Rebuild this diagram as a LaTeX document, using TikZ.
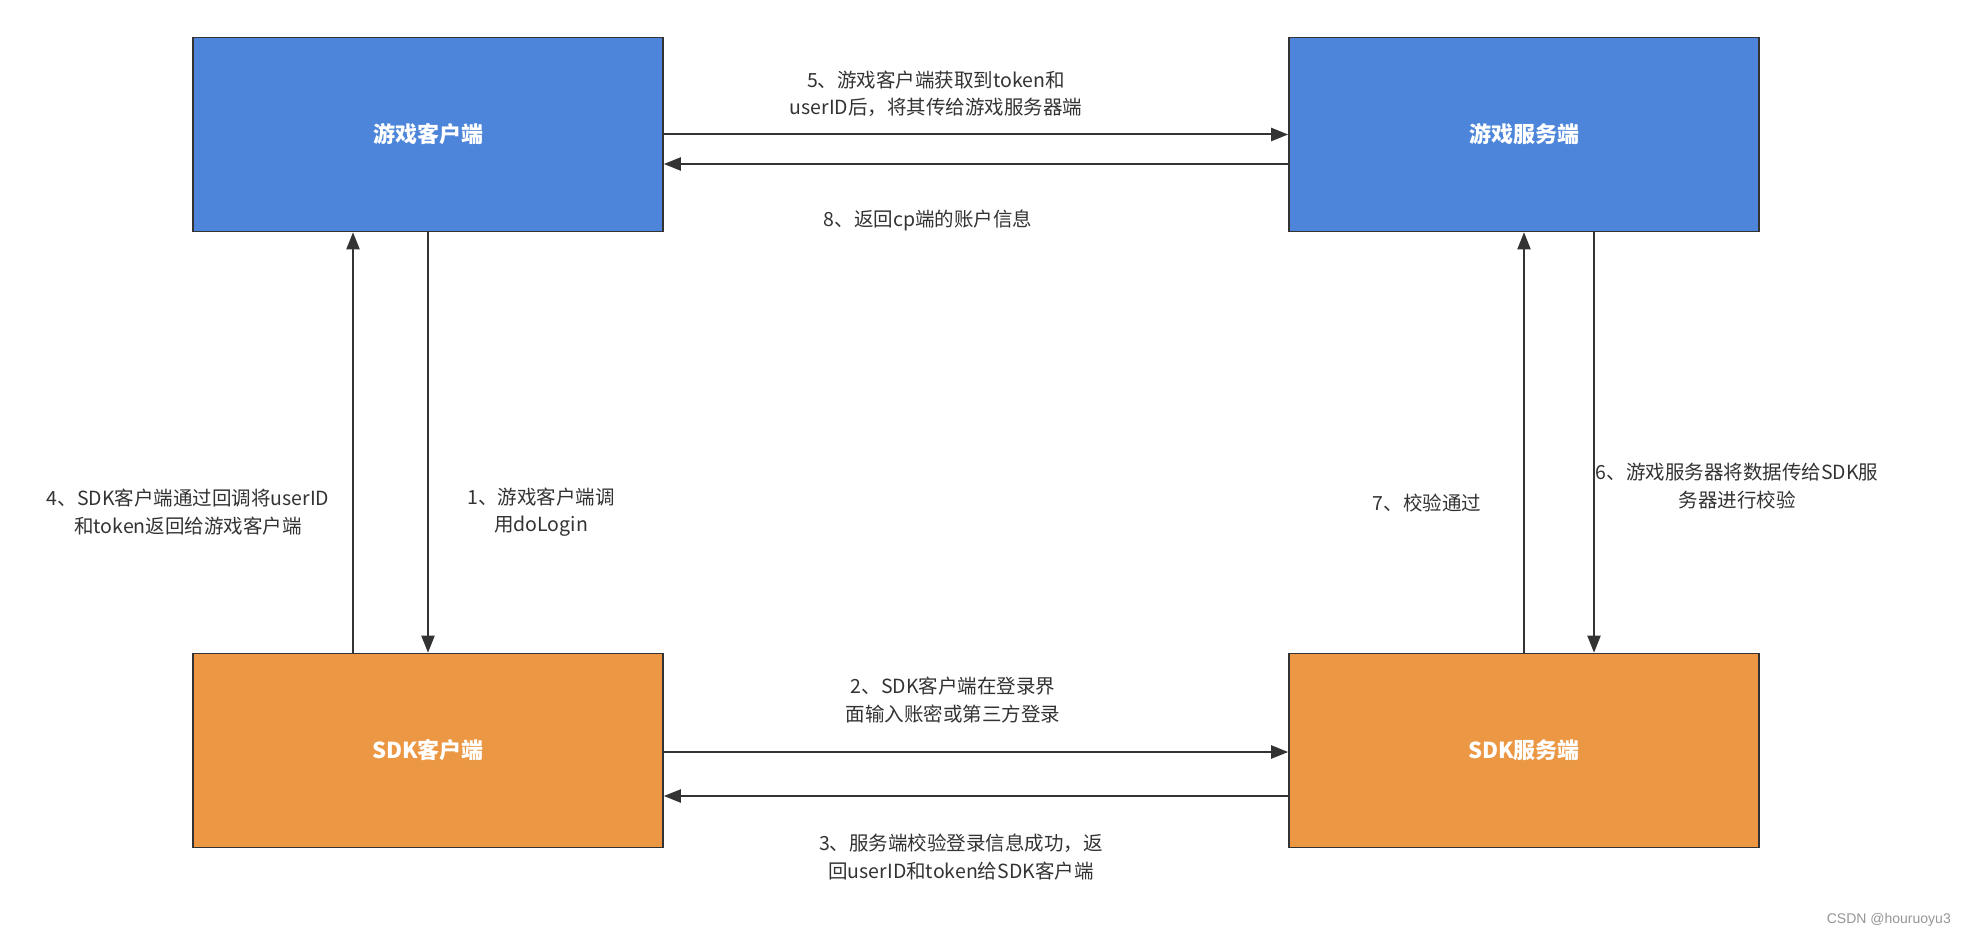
\documentclass[tikz,border=0pt]{standalone}
\usepackage{fontspec}
\setmainfont{Noto Sans CJK SC}
\newfontfamily\wmfont{Liberation Sans}
\usetikzlibrary{arrows.meta}
\definecolor{bluefill}{RGB}{76,133,217}
\definecolor{orangefill}{RGB}{236,151,68}
\definecolor{ink}{RGB}{51,51,51}
\definecolor{wm}{RGB}{150,150,150}
\begin{document}
\begin{tikzpicture}[x=1pt,y=-1pt,
  box/.style={draw=ink,line width=1.6pt,minimum width=470pt,minimum height=194pt,inner sep=0pt,
     text=white,font=\fontsize{22}{26}\selectfont\bfseries},
  bluebox/.style={box,fill=bluefill},
  orangebox/.style={box,fill=orangefill},
  arr/.style={draw=ink,line width=2pt,-{Triangle[length=17pt,width=13pt]}},
  lbl/.style={text=ink,align=center,inner sep=0pt,font=\fontsize{19.5}{27.5}\selectfont}]
\useasboundingbox[fill=white] (0,0) rectangle (1962,939);

\node[bluebox] (gc) at (428,134.5) {游戏客户端};
\node[bluebox] (gs) at (1524,134.5) {游戏服务端};
\node[orangebox] (sc) at (428,750.5) {SDK客户端};
\node[orangebox] (ss) at (1524,750.5) {SDK服务端};

% horizontal connectors
\draw[arr] (gc.east) -- (gs.west);
\draw[arr] ([yshift=-29.5pt]gs.west) -- ([yshift=-29.5pt]gc.west -| gc.east);
\draw[arr] ([yshift=-1.5pt]sc.east) -- ([yshift=-1.5pt]ss.west);
\draw[arr] ([yshift=-45.5pt]ss.west) -- ([yshift=-45.5pt]sc.east);

% vertical connectors
\draw[arr] ([xshift=-75pt]sc.north) -- ([xshift=-75pt]gc.south);
\draw[arr] (gc.south) -- (sc.north);
\draw[arr] (ss.north) -- (gs.south);
\draw[arr] ([xshift=70pt]gs.south) -- ([xshift=70pt]ss.north);

% labels
\node[lbl] (l5) at (936,94) {5、游戏客户端获取到token和\\userID后，将其传给游戏服务器端};
\node[lbl] (l8) at (928,220) {8、返回cp端的账户信息};
\node[lbl] (l4) at (188,512) {4、SDK客户端通过回调将userID\\和token返回给游戏客户端};
\node[lbl] (l1) at (541,512) {1、游戏客户端调\\用doLogin};
\node[lbl] (l7) at (1427,503) {7、校验通过};
\node[lbl] (l6) at (1737,486) {6、游戏服务器将数据传给SDK服\\务器进行校验};
\node[lbl] (l2) at (953,700) {2、SDK客户端在登录界\\面输入账密或第三方登录};
\node[lbl] (l3) at (961,857) {3、服务端校验登录信息成功，返\\回userID和token给SDK客户端};

\node[anchor=east,text=wm,inner sep=0pt,font=\wmfont\fontsize{14}{16}\selectfont] (wmk) at (1951,920) {CSDN @houruoyu3};
\end{tikzpicture}
\end{document}
